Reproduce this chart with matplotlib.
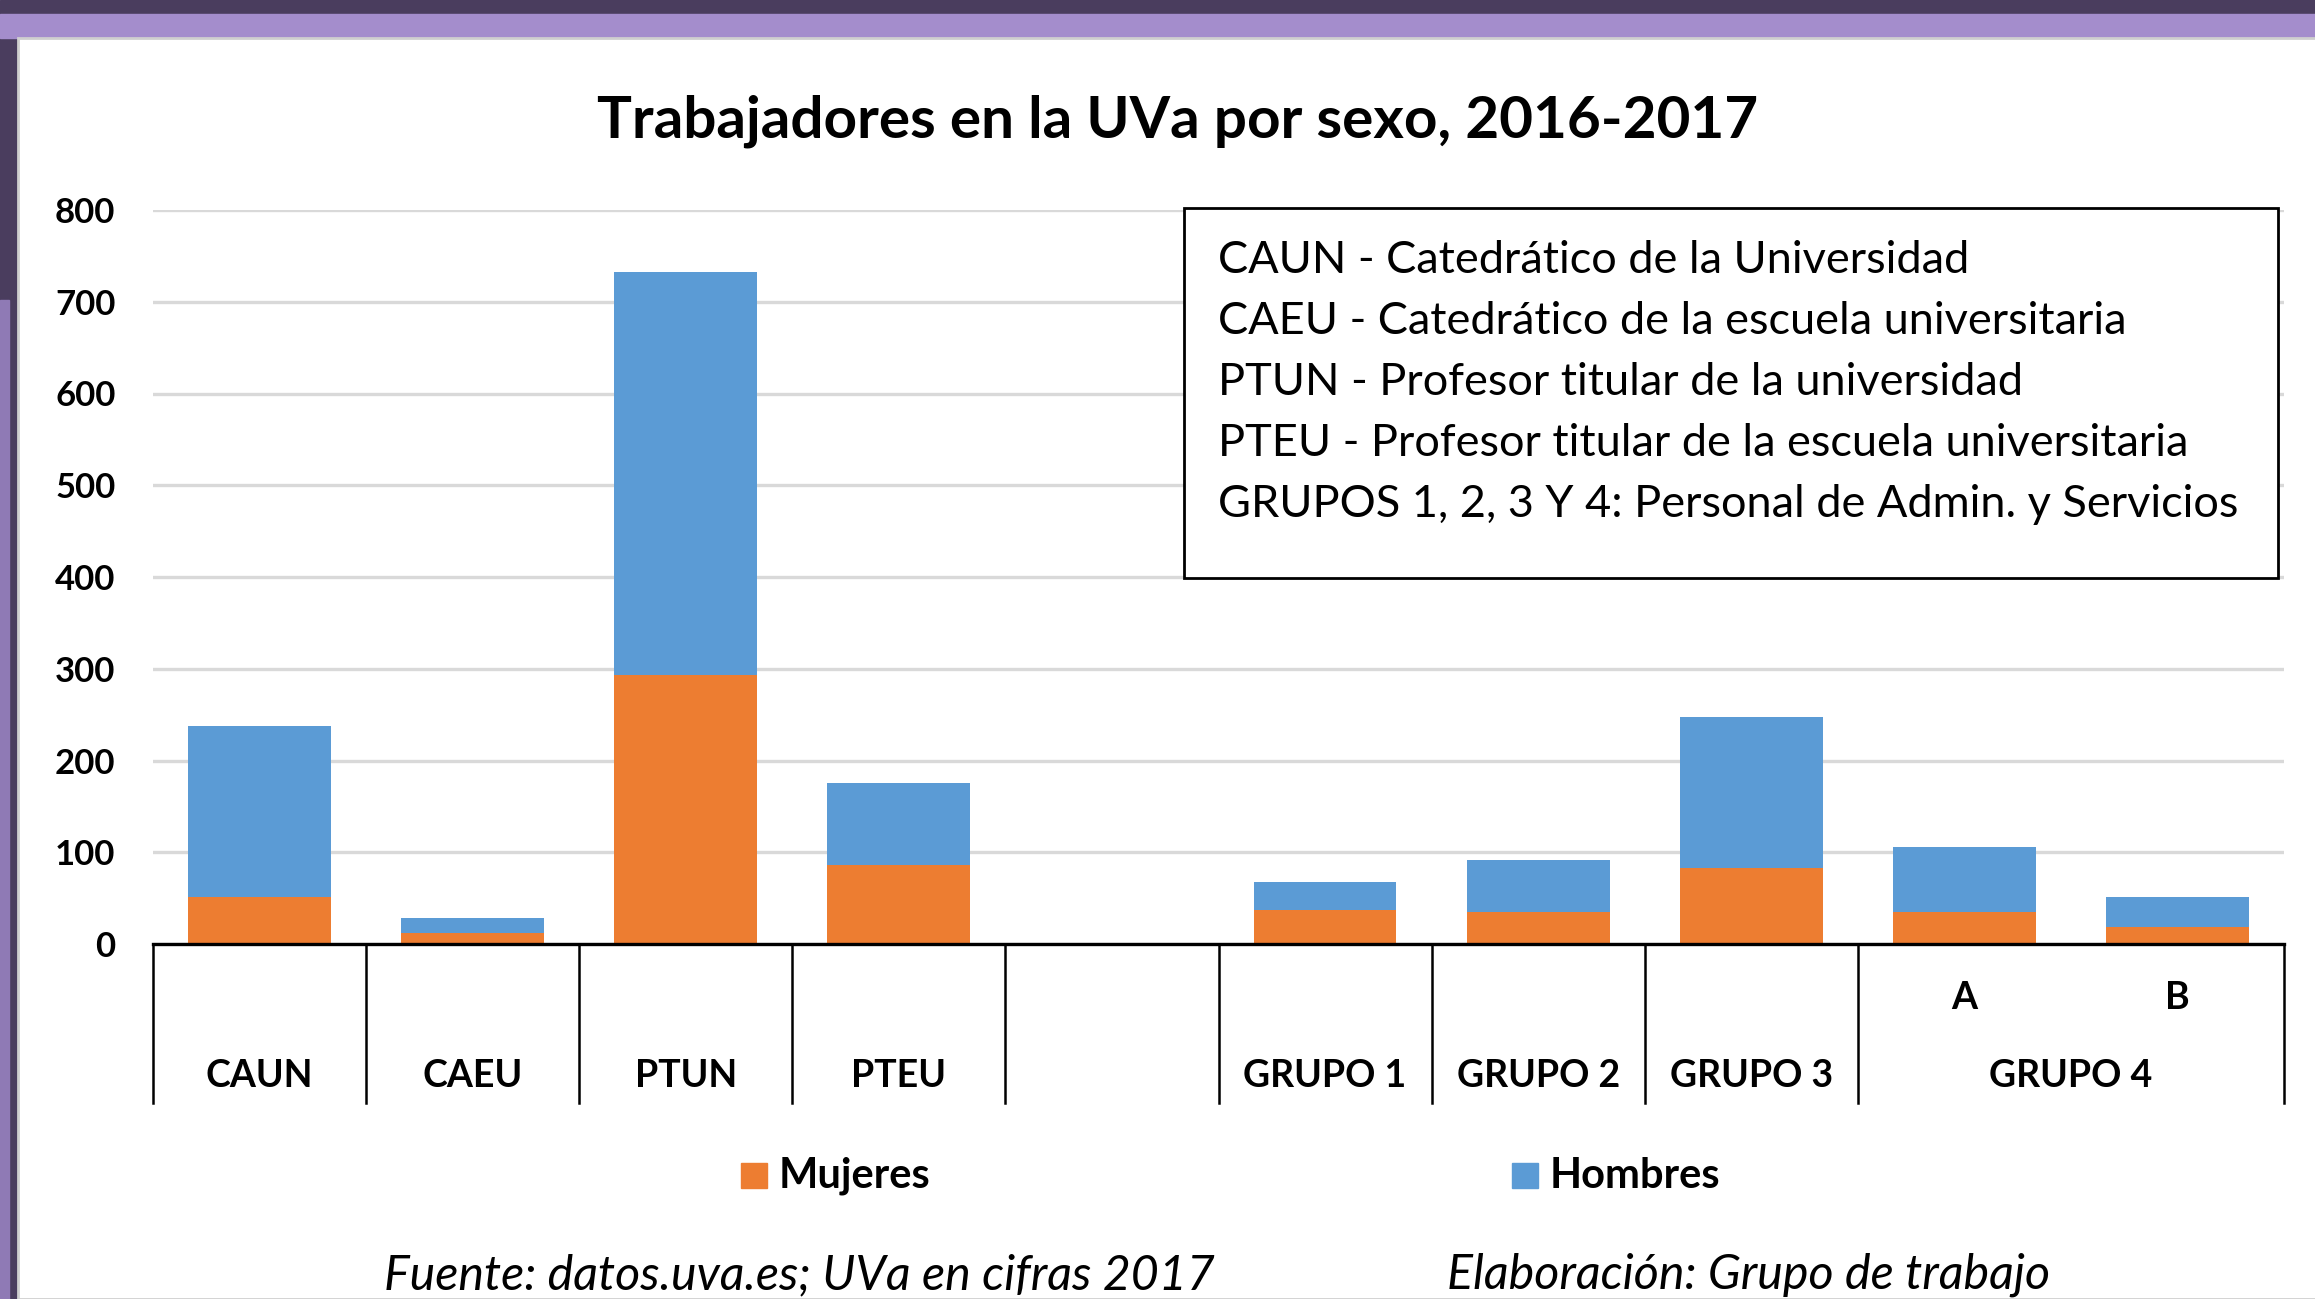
import numpy as np
import matplotlib
matplotlib.use("Agg")
import matplotlib.pyplot as plt
from matplotlib.patches import Rectangle
from matplotlib.transforms import blended_transform_factory

plt.rcParams["font.family"] = ["Lato", "DejaVu Sans"]

# data (blank slot between PTEU and GRUPO 1)
slots = ["CAUN", "CAEU", "PTUN", "PTEU", "", "GRUPO 1", "GRUPO 2", "GRUPO 3", "A", "B"]
mujeres = [51, 12, 293, 86, np.nan, 37, 35, 83, 35, 18]
hombres = [187, 16, 439, 90, np.nan, 31, 57, 164, 71, 33]
yticks = [0, 100, 200, 300, 400, 500, 600, 700, 800]
group_labels = ["CAUN", "CAEU", "PTUN", "PTEU", "GRUPO 1", "GRUPO 2", "GRUPO 3", "GRUPO 4"]
group_centers = [0, 1, 2, 3, 5, 6, 7, 8.5]
sub_labels = ["A", "B"]
sub_centers = [8, 9]
dividers = [-0.5, 0.5, 1.5, 2.5, 3.5, 4.5, 5.5, 6.5, 7.5, 9.5]
notes = [
    "CAUN - Catedrático de la Universidad",
    "CAEU - Catedrático de la escuela universitaria",
    "PTUN - Profesor titular de la universidad",
    "PTEU - Profesor titular de la escuela universitaria",
    "GRUPOS 1, 2, 3 Y 4: Personal de Admin. y Servicios",
]

ORANGE = "#ED7D31"
BLUE = "#5B9BD5"
W, H = 2315, 1299


def fx(px):
    return px / W


def fy(py):
    return 1 - py / H


fig = plt.figure(figsize=(W / 100, H / 100), dpi=100)

# slide background: purple textured border, white panel
bg = [
    Rectangle((0, 0), 1, 1, color="#4a3d5e"),
    Rectangle((0, fy(38)), 1, 24 / H, color="#a48dcc"),
    Rectangle((0, 0), fx(9), fy(300), color="#8f7ab5"),
    Rectangle((fx(18), 0), 1, fy(38), facecolor="white", edgecolor="#cfcfcf", lw=2),
]
for p in bg:
    p.set_transform(fig.transFigure)
    p.set_zorder(-5)
    fig.patches.append(p)

ax = fig.add_axes([fx(153), fy(944), fx(2284 - 153), 734 / H])
x = np.arange(len(slots))
ax.bar(x, mujeres, width=0.67, color=ORANGE, zorder=2)
ax.bar(x, hombres, width=0.67, bottom=mujeres, color=BLUE, zorder=2)

ax.set_xlim(-0.5, 9.5)
ax.set_ylim(0, 800)
ax.set_yticks(yticks)
ax.set_yticklabels([str(t) for t in yticks], fontsize=25, fontweight="bold")
ax.tick_params(axis="y", length=0, pad=27)
ax.set_xticks([])
ax.yaxis.grid(True, color="#d9d9d9", lw=2.4)
ax.set_axisbelow(True)
for s in ["left", "top", "right"]:
    ax.spines[s].set_visible(False)
ax.spines["bottom"].set_linewidth(2.4)
ax.spines["bottom"].set_zorder(3)
ax.patch.set_alpha(0)

trans = blended_transform_factory(ax.transData, ax.transAxes)
for d in dividers:
    ax.plot([d, d], [0, -0.217], color="black", lw=1.8, transform=trans, clip_on=False)
for lab, c in zip(group_labels, group_centers):
    ax.text(c, -0.18, lab, transform=trans, ha="center", va="center",
            fontsize=27, fontweight="bold")
for lab, c in zip(sub_labels, sub_centers):
    ax.text(c, -0.074, lab, transform=trans, ha="center", va="center",
            fontsize=27, fontweight="bold")

# title
fig.text(fx(1178), fy(137), "Trabajadores en la UVa por sexo, 2016-2017",
         ha="center", va="baseline", fontsize=42, fontweight="bold")

# notes box
box = Rectangle((fx(1184), fy(578)), fx(2278 - 1184), (578 - 208) / H,
                transform=fig.transFigure, facecolor="white", edgecolor="black", lw=2)
box.set_zorder(5)
fig.patches.append(box)
for i, line in enumerate(notes):
    fig.text(fx(1218), fy(273 + 61 * i), line, ha="left", va="baseline",
             fontsize=32.5, zorder=6)

# legend
for px, lab, col in [(741, "Mujeres", ORANGE), (1512, "Hombres", BLUE)]:
    sq = Rectangle((fx(px), fy(1188)), fx(26), 25 / H, transform=fig.transFigure, color=col)
    fig.patches.append(sq)
    fig.text(fx(px + 38), fy(1176), lab, ha="left", va="center",
             fontsize=30, fontweight="bold")

# source line
fig.text(fx(384), fy(1289), "Fuente: datos.uva.es; UVa en cifras 2017",
         ha="left", va="baseline", fontsize=34.8, style="italic")
fig.text(fx(1447), fy(1289), "Elaboración: Grupo de trabajo",
         ha="left", va="baseline", fontsize=34.8, style="italic")

fig.savefig("out.png", dpi=100)
